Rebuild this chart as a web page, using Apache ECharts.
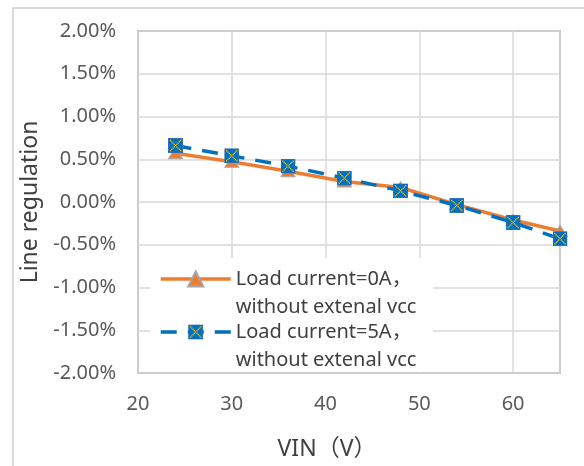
<!DOCTYPE html>
<html>
<head>
<meta charset="utf-8">
<script src="https://cdn.jsdelivr.net/npm/echarts@6/dist/echarts.min.js"></script>
<style>html,body{margin:0;padding:0;background:#fff}#c{width:584px;height:466px}</style>
</head>
<body>
<div id="c"></div>
<script>
// Data
var vin = [24, 30, 36, 42, 48, 54, 60, 65];
var load0A = [0.57, 0.47, 0.36, 0.24, 0.17, -0.03, -0.21, -0.34];
var load5A = [0.66, 0.54, 0.42, 0.28, 0.13, -0.04, -0.24, -0.43];
var seriesNames = ['Load current=0A，\nwithout extenal vcc', 'Load current=5A，\nwithout extenal vcc'];
var xTicks = [20, 30, 40, 50, 60];
var yTicks = [-2, -1.5, -1, -0.5, 0, 0.5, 1, 1.5, 2];

var FONT = '"Noto Sans", "Noto Sans CJK SC", sans-serif';
var svg = "<svg xmlns='http://www.w3.org/2000/svg' width='30' height='30' viewBox='0 0 15 15'>" +
  "<rect x='0.5' y='0.5' width='14' height='14' fill='#0070C0' stroke='#2a6fb5' stroke-width='1'/>" +
  "<path d='M2 2L13 13M13 2L2 13' stroke='#FFC000' stroke-width='1.3' stroke-dasharray='1.2 0.6'/></svg>";
var squareX = 'image://data:image/svg+xml;charset=utf-8,' + encodeURIComponent(svg);

function pair(xs, ys) { return xs.map(function (x, i) { return [x, ys[i]]; }); }

var chart = echarts.init(document.getElementById('c'), null, {renderer: 'canvas'});
chart.setOption({
  animation: false,
  backgroundColor: '#fff',
  grid: {left: 138, right: 24, top: 31, bottom: 91, show: true, borderColor: '#8a8a8a', borderWidth: 1.5, backgroundColor: 'transparent'},
  graphic: [
    {type: 'rect', z: -10, shape: {x: 13, y: 8, width: 600, height: 500}, style: {fill: 'none', stroke: '#d0d0d0', lineWidth: 1.5}},
    {type: 'rect', z: 1, shape: {x: 150, y: 258, width: 283, height: 114}, style: {fill: '#fff'}}
  ],
  xAxis: {
    type: 'value', min: 20, max: 65, interval: 10,
    axisLine: {show: false}, axisTick: {show: false},
    splitLine: {show: true, lineStyle: {color: '#d9d9d9', width: 1.5}},
    axisLabel: {color: '#595959', fontSize: 20, fontFamily: FONT, margin: 21, showMaxLabel: false,
      formatter: function (v) { return xTicks.indexOf(v) >= 0 ? String(v) : ''; }},
    name: 'VIN（V）', nameLocation: 'middle', nameGap: 65,
    nameTextStyle: {color: '#404040', fontSize: 23, fontFamily: FONT, padding: [0, 44, 0, 0]}
  },
  yAxis: {
    type: 'value', min: -2, max: 2, interval: 0.5,
    axisLine: {show: false}, axisTick: {show: false},
    splitLine: {show: true, lineStyle: {color: '#d9d9d9', width: 1.5}},
    axisLabel: {color: '#595959', fontSize: 20, fontFamily: FONT, margin: 22,
      formatter: function (v) { return yTicks.indexOf(v) >= 0 ? v.toFixed(2) + '%' : ''; }},
    name: 'Line regulation', nameLocation: 'middle', nameGap: 89, nameRotate: 90,
    nameTextStyle: {color: '#404040', fontSize: 23, fontFamily: FONT}
  },
  legend: {
    orient: 'vertical', left: 159, top: 237, padding: 0, itemGap: -31,
    itemWidth: 70, itemHeight: 19,
    lineStyle: {width: 3.5},
    textStyle: {color: '#404040', fontSize: 20, fontFamily: FONT, lineHeight: 28},
    formatter: function (name) { return '\n' + name; },
    data: seriesNames
  },
  series: [
    {
      name: seriesNames[0], type: 'line', data: pair(vin, load0A),
      symbol: 'triangle', symbolSize: [14, 11],
      lineStyle: {color: '#ED7D31', width: 3.5},
      itemStyle: {color: '#ED7D31', borderColor: '#a5a5a5', borderWidth: 1}
    },
    {
      name: seriesNames[1], type: 'line', data: pair(vin, load5A),
      symbol: squareX, symbolSize: 15,
      lineStyle: {color: '#0070C0', width: 3.5, type: [16, 11]},
      itemStyle: {color: '#0070C0'}
    }
  ]
});
</script>
</body>
</html>
